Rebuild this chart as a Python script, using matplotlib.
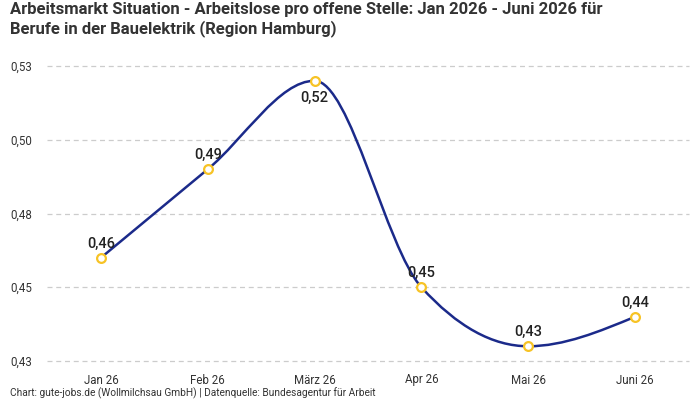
import numpy as np
import matplotlib
matplotlib.use("Agg")
import matplotlib.pyplot as plt
from matplotlib.path import Path
from matplotlib.patches import PathPatch

plt.rcParams['font.family'] = ['Roboto', 'DejaVu Sans']

categories = ["Jan 26", "Feb 26", "März 26", "Apr 26", "Mai 26", "Juni 26"]
values = [0.46, 0.49, 0.52, 0.45, 0.43, 0.44]
labels = ["0,46", "0,49", "0,52", "0,45", "0,43", "0,44"]
yticks = [0.425, 0.45, 0.475, 0.5, 0.525]
ytick_labels = ["0,43", "0,45", "0,48", "0,50", "0,53"]
label_below = [False, False, True, False, False, False]

title = ("Arbeitsmarkt Situation - Arbeitslose pro offene Stelle: Jan 2026 - Juni 2026 für\n"
         "Berufe in der Bauelektrik (Region Hamburg)")
footer = "Chart: gute-jobs.de (Wollmilchsau GmbH) | Datenquelle: Bundesagentur für Arbeit"

LINE = "#1b2a8a"
MARK = "#f7c325"

fig = plt.figure(figsize=(7, 4), dpi=100)
ax = fig.add_axes([47.5/700, 39/400, 641/700, 295/400])

x = np.arange(len(values), dtype=float)
y = np.array(values, dtype=float)

# monotone cubic (d3 curveMonotoneX) tangents
n = len(x)
h = np.diff(x)
s = np.diff(y) / h
t = np.zeros(n)
for i in range(1, n - 1):
    s0, s1 = s[i - 1], s[i]
    p = (s0 * h[i] + s1 * h[i - 1]) / (h[i - 1] + h[i])
    t[i] = (np.sign(s0) + np.sign(s1)) * min(abs(s0), abs(s1), 0.5 * abs(p))
t[0] = (3 * s[0] - t[1]) / 2
t[-1] = (3 * s[-1] - t[-2]) / 2

verts = [(x[0], y[0])]
codes = [Path.MOVETO]
for i in range(n - 1):
    dx = (x[i + 1] - x[i]) / 3
    verts += [(x[i] + dx, y[i] + dx * t[i]),
              (x[i + 1] - dx, y[i + 1] - dx * t[i + 1]),
              (x[i + 1], y[i + 1])]
    codes += [Path.CURVE4] * 3
ax.add_patch(PathPatch(Path(verts, codes), facecolor="none", edgecolor=LINE, lw=1.8, zorder=3))

ax.scatter(x, y, s=40, facecolor="white", edgecolor=MARK, linewidth=1.6, zorder=4, clip_on=False)

for xi, yi, lab, below in zip(x, y, labels, label_below):
    if below:
        ax.annotate(lab, (xi, yi), xytext=(0, -7), textcoords="offset points",
                    ha="center", va="top", fontsize=10.5, color="#222222", fontweight="medium", zorder=5)
    else:
        ax.annotate(lab, (xi, yi), xytext=(0, 5), textcoords="offset points",
                    ha="center", va="bottom", fontsize=10.5, color="#222222", fontweight="medium", zorder=5)

ax.set_xlim(-0.5, n - 0.5)
ax.set_ylim(0.425, 0.525)
ax.set_yticks(yticks)
ax.set_yticklabels(ytick_labels)
ax.set_xticks(x)
ax.set_xticklabels(categories)
ax.tick_params(axis="both", length=0, labelsize=8.3, labelcolor="#333333")
ax.tick_params(axis="x", pad=9)
for yl in ax.get_yticklabels():
    yl.set_horizontalalignment("left")
    yl.set_x(-47.5/641 + 10/641)
ax.tick_params(axis="y", pad=0)
ax.grid(axis="y", color="#cccccc", linestyle=(0, (4, 3)), linewidth=0.9)
for gl in ax.get_ygridlines():
    gl.set_clip_on(False)
ax.set_axisbelow(True)
for sp in ax.spines.values():
    sp.set_visible(False)

fig.text(10/700, 1 - 2/400, title, ha="left", va="top", fontsize=12, fontweight="bold",
         color="#333333", linespacing=1.25)
fig.text(10/700, 1 - 393/400, footer, ha="left", va="center", fontsize=7.3, color="#333333")

fig.savefig("out.png", dpi=100)
